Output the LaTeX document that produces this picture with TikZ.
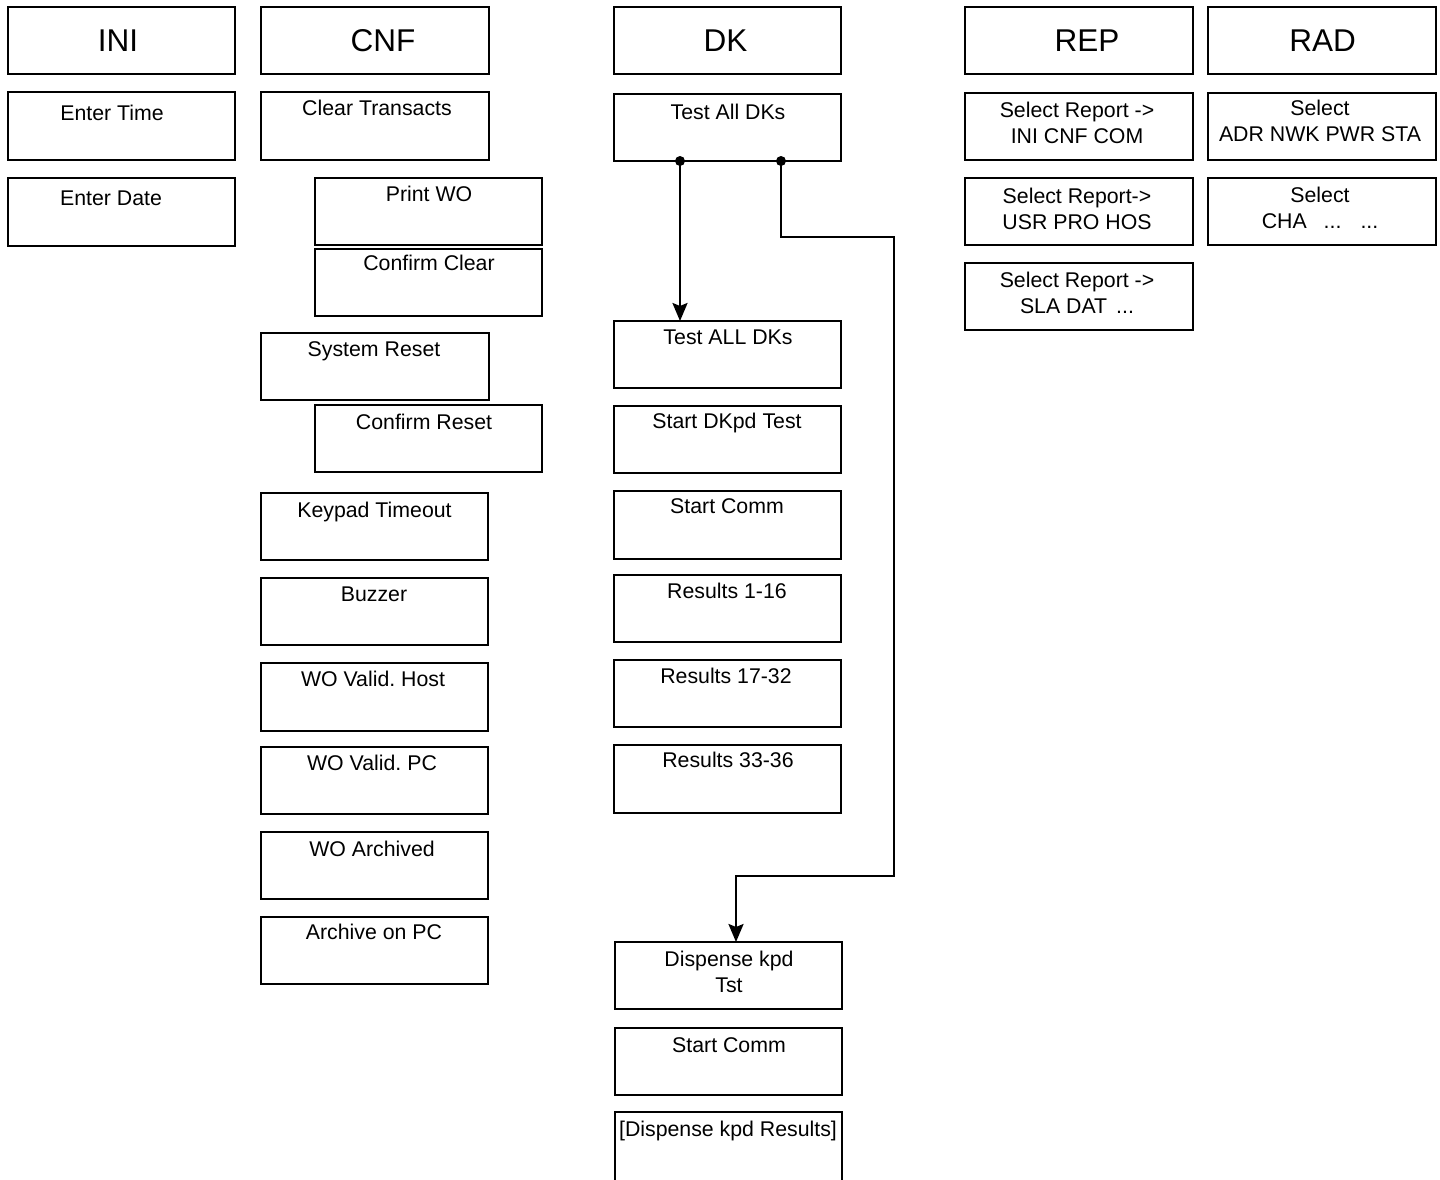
\documentclass[tikz,border=0pt]{standalone}
\usepackage{fontspec}
\setmainfont{Liberation Sans}
\usetikzlibrary{arrows.meta}
\tikzset{
  box/.style={draw=black, line width=2.4pt, fill=white, inner sep=0pt, outer sep=0pt},
  lbl/.style={inner sep=0pt, anchor=north, align=center, font=\fontsize{21.3}{26}\selectfont},
  hlbl/.style={inner sep=0pt, anchor=base, font=\fontsize{31.5}{36}\selectfont},
  wire/.style={draw=black, line width=2.4pt},
  arr/.style={wire, -{Stealth[length=18pt, width=15pt, inset=3pt]}},
  dot/.style={circle, fill=black, inner sep=0pt, minimum size=10pt},
}
\frenchspacing
% name, left, top, right, bottom, text x, first baseline, text
\newcommand\bx[8]{%
  \node[box, minimum width={(#4-#2)*1pt}, minimum height={(#5-#3)*1pt}] (#1) at ({(#2+#4)/2},{(#3+#5)/2}) {};
  \node[lbl] (#1-t) at (#6,{#7-18.2}) {\strut#8};}
\newcommand\hd[8]{%
  \node[box, minimum width={(#4-#2)*1pt}, minimum height={(#5-#3)*1pt}] (#1) at ({(#2+#4)/2},{(#3+#5)/2}) {};
  \node[hlbl] (#1-t) at (#6,#7) {#8};}
\begin{document}
\begin{tikzpicture}[x=1pt, y=-1pt]
\clip (0,0) rectangle (1440,1179);
\fill[white] (0,0) rectangle (1440,1179);
% headers
\hd{ini}{8}{7}{235}{74}{118}{51}{INI}
\hd{cnf}{261}{7}{489}{74}{383}{51}{CNF}
\hd{dk}{614}{7}{841}{74}{725.5}{51}{DK}
\hd{rep}{965}{7}{1193}{74}{1087}{51}{REP}
\hd{rad}{1208}{7}{1436}{74}{1322.5}{51}{RAD}
% INI column
\bx{et}{8}{92}{235}{160}{112}{120}{Enter Time}
\bx{ed}{8}{178}{235}{246}{111}{205}{Enter Date}
% CNF column
\bx{ct}{261}{92}{489}{160}{377}{115}{Clear Transacts}
\bx{pw}{315}{178}{542}{245}{429}{201}{Print WO}
\bx{cc}{315}{249}{542}{316}{429}{270}{Confirm Clear}
\bx{sr}{261}{333}{489}{400}{374}{356}{System Reset}
\bx{cr}{315}{405}{542}{472}{424}{429}{Confirm Reset}
\bx{kt}{261}{493}{488}{560}{374.5}{517}{Keypad Timeout}
\bx{bz}{261}{578}{488}{645}{374}{601}{Buzzer}
\bx{wh}{261}{663}{488}{731}{373}{686}{WO Valid. Host}
\bx{wp}{261}{747}{488}{814}{372}{770}{WO Valid. PC}
\bx{wa}{261}{832}{488}{899}{372}{856}{WO Archived}
\bx{ap}{261}{917}{488}{984}{374}{939}{Archive on PC}
% DK column
\bx{dka}{614}{94}{841}{161}{728}{119}{Test All DKs}
\bx{dkb}{614}{321}{841}{388}{728}{344}{Test ALL DKs}
\bx{dkc}{614}{406}{841}{473}{727}{428}{Start DKpd Test}
\bx{dkd}{614}{491}{841}{559}{727}{513}{Start Comm}
\bx{dke}{614}{575}{841}{642}{727}{598}{Results 1-16}
\bx{dkf}{614}{660}{841}{727}{726}{683}{Results 17-32}
\bx{dkg}{614}{745}{841}{813}{728}{767}{Results 33-36}
\bx{dpa}{615}{942}{842}{1009}{729}{966}{Dispense kpd\\Tst}
\bx{dpb}{615}{1028}{842}{1095}{729}{1052}{Start Comm}
\bx{dpc}{615}{1112}{842}{1190}{728}{1136}{[Dispense kpd Results]}
% REP column
\bx{ra}{965}{93}{1193}{160}{1077}{117}{Select Report -{}>\\INI CNF COM}
\bx{rb}{965}{178}{1193}{245}{1077}{203}{Select Report-{}>\\USR PRO HOS}
\bx{rc}{965}{263}{1193}{330}{1077}{287}{Select Report -{}>\\SLA DAT\hspace{9pt}...}
% RAD column
\bx{da}{1208}{93}{1436}{160}{1320}{115}{Select\\ADR NWK PWR STA}
\bx{db}{1208}{178}{1436}{245}{1320}{202}{Select\\CHA\hspace{17pt}...\hspace{19pt}...}
% connectors
\coordinate (p1) at (680,161);
\coordinate (p2) at (781,161);
\coordinate (b1) at (781,237);
\coordinate (b2) at (894,237);
\coordinate (b3) at (894,876);
\coordinate (b4) at (736,876);
\draw[arr] (p1) -- (p1 |- dkb.north);
\draw[arr] (p2) -- (b1) -- (b2) -- (b3) -- (b4) -- (b4 |- dpa.north);
\node[dot] (d1) at (p1) {};
\node[dot] (d2) at (p2) {};
\end{tikzpicture}
\end{document}
